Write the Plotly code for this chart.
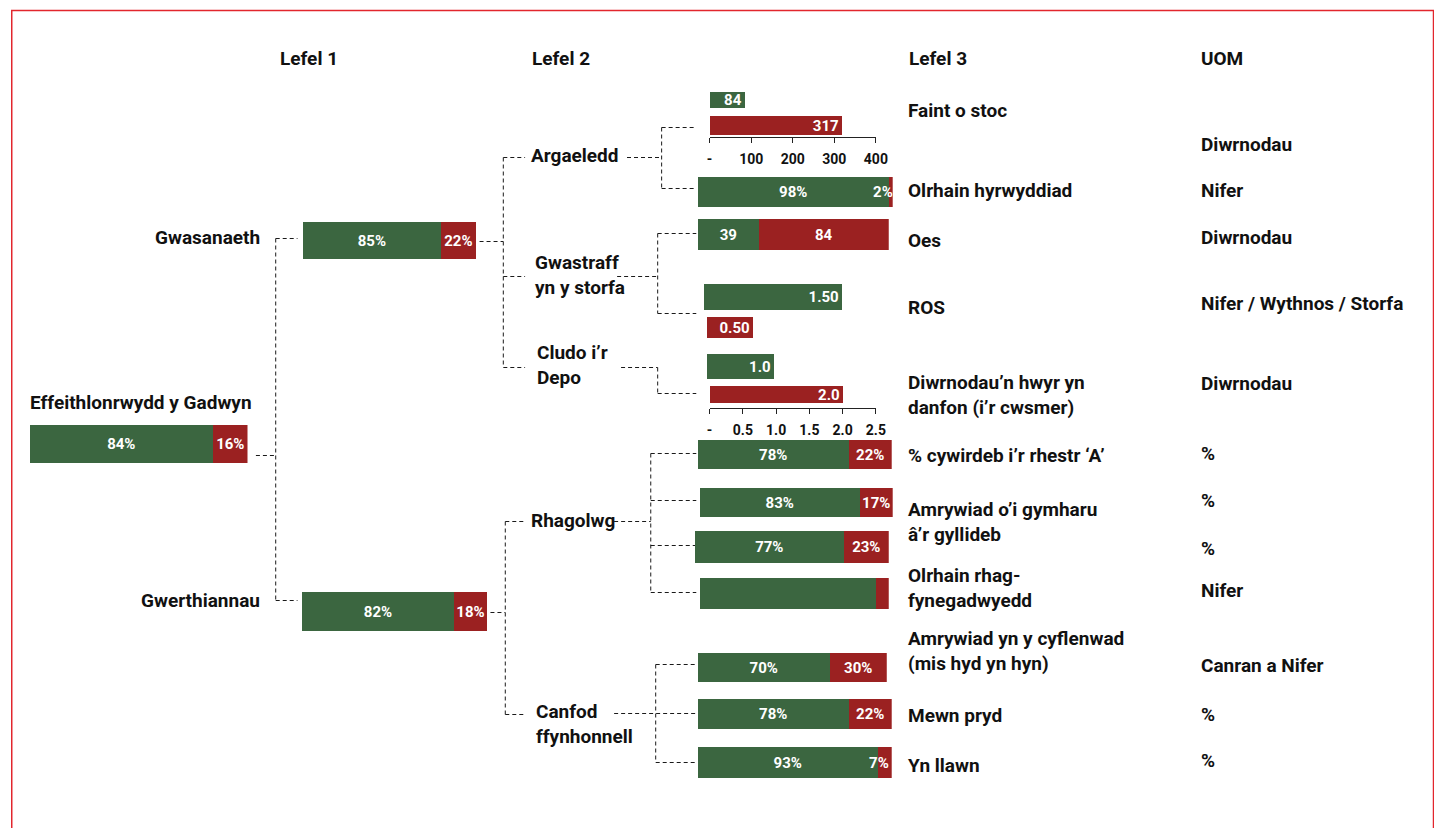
import plotly.graph_objects as go

W, H = 1454, 836          # browser window (page coordinates)
OX, OY = 8, 8             # page offset of the figure (default body margin)
FW, FH = W - 2 * OX, H - 2 * OY   # figure size that fits without scrolling
GREEN = "#3b6640"
RED = "#9b2121"
FONT = "Roboto"
LINE = "#1a1a1a"

# ---------------- data ----------------
headers = ["Lefel 1", "Lefel 2", "Lefel 3", "UOM"]

l1_label = "Effeithlonrwydd y Gadwyn"
l1_good = [84]
l1_bad = [16]

l2_labels = ["Gwasanaeth", "Gwerthiannau"]
l2_good = [85, 82]
l2_bad = [22, 18]

group_labels = ["Argaeledd", "Gwastraff<br>yn y storfa", "Cludo i’r<br>Depo",
                "Rhagolwg", "Canfod<br>ffynhonnell"]

stock_values = [84, 317]            # Faint o stoc (green, red)
stock_ticks = [0, 100, 200, 300, 400]
stock_ticktext = ["-", "100", "200", "300", "400"]

promo_pct = [98, 2]                 # Olrhain hyrwyddiad
age_values = [39, 84]               # Oes
ros_values = [1.50, 0.50]           # ROS
late_values = [1.0, 2.0]            # Diwrnodau'n hwyr yn danfon
days_ticks = [0, 0.5, 1.0, 1.5, 2.0, 2.5]
days_ticktext = ["-", "0.5", "1.0", "1.5", "2.0", "2.5"]

forecast_good = [78, 83, 77, 93]
forecast_bad = [22, 17, 23, 7]
forecast_show_text = [True, True, True, False]

sourcing_good = [70, 78, 93]
sourcing_bad = [30, 22, 7]

l3_labels = ["Faint o stoc", "Olrhain hyrwyddiad", "Oes", "ROS",
             "Diwrnodau’n hwyr yn<br>danfon (i’r cwsmer)",
             "% cywirdeb i’r rhestr ‘A’", "Amrywiad o’i gymharu<br>â’r gyllideb",
             "Olrhain rhag-<br>fynegadwyedd", "Amrywiad yn y cyflenwad<br>(mis hyd yn hyn)",
             "Mewn pryd", "Yn llawn"]
uom_labels = ["Diwrnodau", "Nifer", "Diwrnodau", "Nifer / Wythnos / Storfa", "Diwrnodau",
              "%", "%", "%", "Nifer", "Canran a Nifer", "%", "%"]

# ---------------- layout positions (page pixels) ----------------
header_pos = [(278, 58), (532, 58), (913, 58), (1209, 58)]
l1_box = (27, 247, 425, 463)
l1_label_pos = (25, 402)
l2_boxes = [(303, 478, 222, 259), (302, 489, 592, 631)]
l2_label_pos = [(262, 237), (262, 600)]
group_label_pos = [(531, 155), (536, 275), (538, 365), (531, 520), (537, 724)]
promo_box = (702, 899, 177, 207)
age_box = (702, 895, 219, 250)
forecast_boxes = [(702, 898, 440, 469), (704, 899, 488, 517),
                  (699, 895, 531, 563), (704, 895, 578, 609)]
sourcing_boxes = [(702, 893, 653, 682), (702, 898, 699, 729), (702, 898, 747, 778)]
l3_label_pos = [(912, 110), (912, 190), (912, 240), (912, 307), (912, 395),
                (912, 455), (912, 522), (912, 588), (912, 651), (912, 715), (912, 765)]
uom_pos = [(1209, 144), (1209, 190), (1209, 237), (1209, 303), (1209, 383),
           (1209, 453), (1209, 500), (1209, 548), (1209, 590), (1209, 665),
           (1209, 714), (1209, 760)]

connectors = [
    # level 1 -> level 2
    [(255, 455), (275, 455)], [(275, 238), (275, 600)],
    [(275, 238), (297, 238)], [(275, 600), (297, 600)],
    # Gwasanaeth -> groups
    [(481, 241), (505, 241)], [(505, 157), (505, 367)],
    [(505, 157), (527, 157)], [(505, 276), (527, 276)], [(505, 367), (527, 367)],
    # Argaeledd
    [(630, 157), (665, 157)], [(665, 127), (665, 188)],
    [(665, 127), (698, 127)], [(665, 188), (700, 188)],
    # Gwastraff
    [(620, 276), (661, 276)], [(661, 233), (661, 313)],
    [(661, 233), (700, 233)], [(661, 313), (700, 313)],
    # Cludo
    [(624, 367), (661, 367)], [(661, 367), (661, 393)], [(661, 393), (700, 393)],
    # Gwerthiannau -> groups
    [(492, 612), (507, 612)], [(507, 521), (507, 714)],
    [(507, 521), (528, 521)], [(507, 714), (527, 714)],
    # Rhagolwg
    [(617, 521), (654, 521)], [(654, 453), (654, 592)],
    [(654, 453), (700, 453)], [(654, 500), (700, 500)],
    [(654, 545), (700, 545)], [(654, 592), (700, 592)],
    # Canfod
    [(617, 713), (700, 713)], [(659, 664), (659, 762)],
    [(659, 664), (700, 664)], [(659, 762), (700, 762)],
]


def dx(px):
    return (px - OX) / FW


def dy(py):
    return 1 - (py - OY) / FH


fig = go.Figure()
fig.add_trace(go.Scatter(x=[], y=[], xaxis="x", yaxis="y", showlegend=False))
fig.update_layout(
    xaxis=dict(domain=[0, 1], range=[OX, OX + FW], visible=False, fixedrange=True),
    yaxis=dict(domain=[0, 1], range=[OY + FH, OY], visible=False, fixedrange=True),
)

counter = [1]


def new_axes(x0, x1, y0, y1, xmax, yrange=(-0.5, 0.5)):
    counter[0] += 1
    n = counter[0]
    fig.layout[f"xaxis{n}"] = dict(domain=[dx(x0), dx(x1)], range=[0, xmax], visible=False,
                                   fixedrange=True, anchor=f"y{n}")
    fig.layout[f"yaxis{n}"] = dict(domain=[dy(y1), dy(y0)], range=list(yrange),
                                   visible=False, fixedrange=True, anchor=f"x{n}")
    return f"x{n}", f"y{n}", n


def text_font():
    return dict(color="white", size=15, family=FONT, weight="bold")


def bar(xa, ya, value, base, color, text, anchor):
    fig.add_trace(go.Bar(
        x=[value], y=[0], base=[base], orientation="h", width=1,
        marker=dict(color=color, line=dict(width=0)),
        text=[text] if text else None, textposition="inside", insidetextanchor=anchor,
        textangle=0, constraintext="none", textfont=text_font(),
        xaxis=xa, yaxis=ya, showlegend=False, hoverinfo="skip", cliponaxis=False))


def stacked(box, good, bad, show_text=True, suffix="%"):
    x0, x1, y0, y1 = box
    xa, ya, _ = new_axes(x0, x1, y0, y1, good + bad)
    bar(xa, ya, good, 0, GREEN, f"{good}{suffix}" if show_text else None, "middle")
    bad_anchor = "end" if bad < 10 else "middle"
    bar(xa, ya, bad, good, RED, f"{bad}{suffix}" if show_text else None, bad_anchor)


def value_bar(x0, width_px, y0, y1, xmax, value, color, text, axis=None):
    xa, ya, n = new_axes(x0, x0 + width_px, y0, y1, xmax)
    bar(xa, ya, value, 0, color, text, "end")
    if axis is not None:
        ticks, ticktext, line_y = axis
        fig.layout[f"xaxis{n}"].update(
            visible=True, anchor="free", position=dy(line_y),
            tickmode="array", tickvals=ticks, ticktext=ticktext,
            showline=True, linecolor="#222222", linewidth=1, showgrid=False, zeroline=False,
            ticks="outside", ticklen=5, tickcolor="#222222", tickwidth=1,
            ticklabelstandoff=4,
            tickfont=dict(family=FONT, size=14, color="#111111", weight="bold"))


# Level 1 and level 2
stacked(l1_box, l1_good[0], l1_bad[0])
for box, g, b in zip(l2_boxes, l2_good, l2_bad):
    stacked(box, g, b)

# Faint o stoc (shared 0-400 scale)
value_bar(714, 168, 92, 108, stock_ticks[-1], stock_values[0], GREEN, f"{stock_values[0]}")
value_bar(714, 168, 116, 135, stock_ticks[-1], stock_values[1], RED, f"{stock_values[1]}",
          axis=(stock_ticks, stock_ticktext, 137))

# Olrhain hyrwyddiad and Oes
stacked(promo_box, promo_pct[0], promo_pct[1])
stacked(age_box, age_values[0], age_values[1], suffix="")

# ROS (0-1.8 scale, no axis)
value_bar(708, 167, 284, 310, 1.8, ros_values[0], GREEN, f"{ros_values[0]:.2f}")
value_bar(711, 167, 317, 338, 1.8, ros_values[1], RED, f"{ros_values[1]:.2f}")

# Diwrnodau'n hwyr (0-2.5 scale)
value_bar(711, 168, 354, 379, days_ticks[-1], late_values[0], GREEN, f"{late_values[0]:.1f}")
value_bar(714, 168, 386, 403, days_ticks[-1], late_values[1], RED, f"{late_values[1]:.1f}",
          axis=(days_ticks, days_ticktext, 408))

# Rhagolwg and Canfod ffynhonnell
for box, g, b, s in zip(forecast_boxes, forecast_good, forecast_bad, forecast_show_text):
    stacked(box, g, b, show_text=s)
for box, g, b in zip(sourcing_boxes, sourcing_good, sourcing_bad):
    stacked(box, g, b)

# ---------------- connectors ----------------
shapes = []
for (xa_, ya_), (xb_, yb_) in connectors:
    shapes.append(dict(type="line", xref="x", yref="y",
                       x0=xa_ + 0.5, y0=ya_ + 0.5, x1=xb_ + 0.5, y1=yb_ + 0.5,
                       line=dict(color=LINE, width=1, dash="4px,3px"), layer="below"))
# red frame (bottom edge lies below the visible page)
shapes.append(dict(type="rect", xref="x", yref="y", x0=8.75, y0=10.5, x1=1445.5, y1=H + 20,
                   line=dict(color="#e2262d", width=1.5)))

# ---------------- text ----------------
annotations = []


def label(text, x, y, anchor="left", size=19):
    annotations.append(dict(text=text, x=x, y=y, xref="x", yref="y", showarrow=False,
                            xanchor=anchor, yanchor="middle", align=anchor,
                            font=dict(family=FONT, size=size, color="#111111", weight="bold")))


for t, (x, y) in zip(headers, header_pos):
    label(t, x, y)
label(l1_label, *l1_label_pos)
for t, (x, y) in zip(l2_labels, l2_label_pos):
    label(t, x, y, anchor="right")
for t, (x, y) in zip(group_labels, group_label_pos):
    label(t, x, y)
for t, (x, y) in zip(l3_labels, l3_label_pos):
    label(t, x, y)
for t, (x, y) in zip(uom_labels, uom_pos):
    label(t, x, y)

fig.update_layout(
    width=FW, height=FH, margin=dict(l=0, r=0, t=0, b=0),
    paper_bgcolor="white", plot_bgcolor="rgba(0,0,0,0)",
    barmode="stack", bargap=0, showlegend=False,
    shapes=shapes, annotations=annotations,
    font=dict(family=FONT),
)

fig.write_html("out.html")
